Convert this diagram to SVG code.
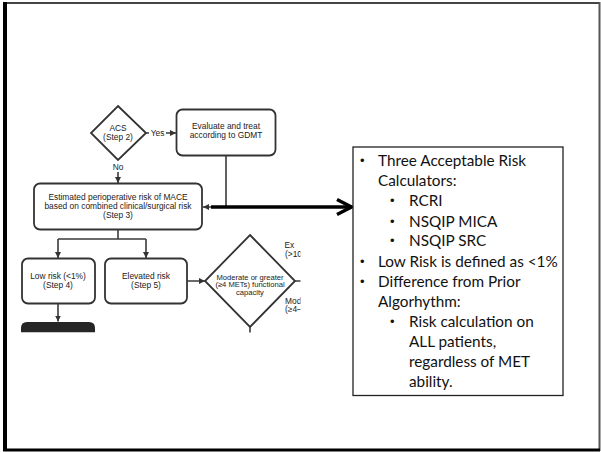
<svg xmlns="http://www.w3.org/2000/svg" width="601" height="452" viewBox="0 0 601 452">
<defs>
<style>
.fc{font-family:"Liberation Sans",Arial,sans-serif;font-size:8.4px;fill:#222;text-anchor:middle}
.fcl{font-family:"Liberation Sans",Arial,sans-serif;font-size:8.4px;fill:#222}
.box{fill:#fff;stroke:#333;stroke-width:1.8}
.ln{fill:none;stroke:#3a3a3a;stroke-width:1.6}
.tb{font-family:Lato,"Open Sans",sans-serif;font-size:15.3px;fill:#111}
.bu{font-family:"Liberation Sans",Arial,sans-serif;font-size:13px;fill:#111}
</style>
<marker id="ah" viewBox="0 0 10 10" refX="10" refY="5" markerWidth="6" markerHeight="6" markerUnits="userSpaceOnUse" orient="auto">
<path d="M0,0 L10,5 L0,10 Z" fill="#333"/>
</marker>
<clipPath id="clipfc"><rect x="0" y="90" width="300.5" height="242.5"/></clipPath>
</defs>
<rect x="0" y="0" width="601" height="452" fill="#fff"/>
<g id="frame">
<line x1="3" y1="3" x2="600" y2="3" stroke="#444" stroke-width="2"/>
<line x1="5" y1="2" x2="5" y2="451" stroke="#000" stroke-width="4"/>
<line x1="599.5" y1="2" x2="599.5" y2="451" stroke="#555" stroke-width="2"/>
<line x1="3" y1="450" x2="600" y2="450" stroke="#000" stroke-width="3"/>
</g>
<g id="flowchart" clip-path="url(#clipfc)">
<g id="node-acs">
<path class="box" d="M118,106 L146,133 L118,160 L91,133 Z"/>
<text class="fc" x="118" y="130.5">ACS</text>
<text class="fc" x="118" y="140">(Step 2)</text>
</g>
<g id="node-evaluate">
<rect class="box" x="176.5" y="109.5" width="99" height="46" rx="6"/>
<text class="fc" x="226" y="129">Evaluate and treat</text>
<text class="fc" x="226" y="138">according to GDMT</text>
</g>
<g id="node-mace">
<rect class="box" x="34" y="183.5" width="168" height="46" rx="6"/>
<text class="fc" x="118" y="199.5">Estimated perioperative risk of MACE</text>
<text class="fc" x="118" y="208.5">based on combined clinical/surgical risk</text>
<text class="fc" x="118" y="217.5">(Step 3)</text>
</g>
<g id="node-low">
<rect class="box" x="22" y="258.5" width="73" height="45" rx="6"/>
<text class="fc" x="58" y="279">Low risk (&lt;1%)</text>
<text class="fc" x="58" y="288">(Step 4)</text>
</g>
<g id="node-elevated">
<rect class="box" x="105" y="258.5" width="82" height="45" rx="6"/>
<text class="fc" x="146" y="279">Elevated risk</text>
<text class="fc" x="146" y="288">(Step 5)</text>
</g>
<g id="node-capacity">
<path class="box" d="M250,235 L295,281 L250,327 L205,281 Z"/>
<text class="fc" x="250" y="279.5" style="font-size:7.6px">Moderate or greater</text>
<text class="fc" x="250" y="287" style="font-size:7.6px">(≥4 METs) functional</text>
<text class="fc" x="250" y="294.5" style="font-size:7.6px">capacity</text>
</g>
<g id="node-next">
<path d="M21,332.5 L21,328 Q21,322 27,322 L89,322 Q95,322 95,328 L95,332.5 Z" fill="#262626"/>
</g>
<g id="labels-cut">
<text class="fcl" x="284.5" y="248">Ex</text>
<text class="fcl" x="285" y="256.5">(&gt;10</text>
<text class="fcl" x="285" y="303.5">Mod</text>
<text class="fcl" x="285" y="312">(≥4–</text>
</g>
<g id="connectors">
<line class="ln" x1="146" y1="133" x2="149" y2="133"/>
<text class="fc" x="157.5" y="135.5">Yes</text>
<line class="ln" x1="166" y1="133" x2="176" y2="133" marker-end="url(#ah)"/>
<text class="fc" x="118" y="170">No</text>
<line class="ln" x1="118" y1="172" x2="118" y2="183" marker-end="url(#ah)"/>
<polyline class="ln" points="226,155.5 226,207 203,207" marker-end="url(#ah)"/>
<line class="ln" x1="118" y1="229.5" x2="118" y2="239"/>
<line class="ln" x1="58" y1="239" x2="146" y2="239"/>
<line class="ln" x1="58" y1="239" x2="58" y2="258" marker-end="url(#ah)"/>
<line class="ln" x1="146" y1="239" x2="146" y2="258" marker-end="url(#ah)"/>
<line class="ln" x1="58" y1="303.5" x2="58" y2="321.5" marker-end="url(#ah)"/>
<line class="ln" x1="187" y1="281" x2="205" y2="281" marker-end="url(#ah)"/>
<line class="ln" x1="295" y1="281" x2="302" y2="281"/>
<line class="ln" x1="250" y1="327" x2="250" y2="334"/>
</g>
</g>
<g id="callout-arrow">
<line x1="211" y1="207" x2="351" y2="207" stroke="#000" stroke-width="3.5"/>
<polyline points="337,199.5 351.5,207 337,214.5" fill="none" stroke="#000" stroke-width="3.5" stroke-linejoin="miter"/>
</g>
<g id="textbox">
<rect x="353" y="147" width="210" height="248.5" fill="#fff" stroke="#222" stroke-width="1.3"/>
<g class="tb">
<text class="bu" x="360" y="165">•</text><text x="378" y="166">Three Acceptable Risk</text>
<text x="378" y="186">Calculators:</text>
<text class="bu" x="390" y="205">•</text><text x="409" y="206">RCRI</text>
<text class="bu" x="390" y="225.5">•</text><text x="409" y="226.5">NSQIP MICA</text>
<text class="bu" x="390" y="245">•</text><text x="409" y="246">NSQIP SRC</text>
<text class="bu" x="360" y="265.5">•</text><text x="378" y="266.5">Low Risk is defined as &lt;1%</text>
<text class="bu" x="360" y="285.5">•</text><text x="378" y="286.5">Difference from Prior</text>
<text x="378" y="306.5">Algorhythm:</text>
<text class="bu" x="390" y="325.5">•</text><text x="409" y="326.5">Risk calculation on</text>
<text x="409" y="346.5">ALL patients,</text>
<text x="409" y="366.5">regardless of MET</text>
<text x="409" y="386.5">ability.</text>
</g>
</g>
</svg>
